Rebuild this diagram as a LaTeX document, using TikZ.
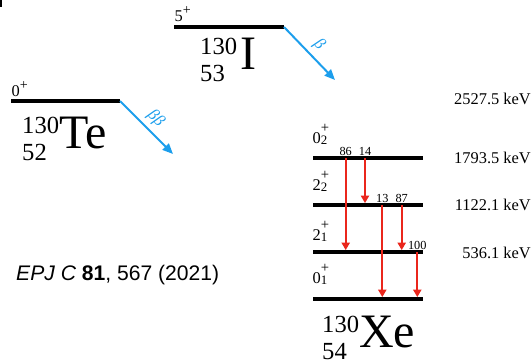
\documentclass[tikz,border=0pt]{standalone}
\usepackage{fontspec}
\setmainfont{Liberation Serif}
\setsansfont{Liberation Sans}
\usetikzlibrary{arrows.meta}

\definecolor{betablue}{RGB}{28,158,236}
\definecolor{gammared}{RGB}{234,38,28}

% nuclide symbol: mass number, charge number, element
\newcommand{\nucl}[3]{%
  {\fontsize{21}{21}\selectfont\rlap{\raisebox{-11pt}{#2}}\raisebox{12.8pt}{#1}}%
  {\fontsize{41}{41}\selectfont #3}}
% spin-parity labels
\newcommand{\jp}[1]{#1\raisebox{5.8pt}{\fontsize{12}{12}\selectfont +}}
\newcommand{\jps}[2]{#1\rlap{\raisebox{9.2pt}{\fontsize{12.5}{12.5}\selectfont +}}\raisebox{-1.2pt}{\fontsize{11}{11}\selectfont #2}}

\begin{document}
\begin{tikzpicture}[x=0.03cm, y=-0.03cm,
    level/.style={line width=3.4pt},
    decay/.style={line width=1.7pt, betablue, -{Triangle[length=9pt, width=7.5pt]}},
    gamma/.style={line width=1.6pt, gammared, -{Triangle[length=6.5pt, width=7pt]}, shorten >=1.6pt},
    jlab/.style={anchor=base west, inner sep=0pt, font=\fontsize{14}{14}\selectfont},
    nuclab/.style={anchor=base west, inner sep=0pt},
    betalab/.style={sloped, above, pos=0.5, inner sep=4pt, text=betablue, font=\fontsize{14}{14}\selectfont\itshape},
    enlab/.style={anchor=east, inner sep=0pt, font=\fontsize{14}{14}\selectfont},
    brlab/.style={anchor=base, inner sep=0pt, yshift=2.3pt, font=\fontsize{10.5}{10.5}\selectfont}]
        \useasboundingbox (0,0) rectangle (532,364);
        \fill (0,0) rectangle (2,7);

        % ==== 130Te ====
        \coordinate (te-l) at (11,101);
        \coordinate (te-r) at (120,101);
        \coordinate (te-tip) at (173,154);
        \draw[level] (te-l) -- (te-r);
        \node[jlab] (te-jp) at (11.5,96.5) {\jp{0}};
        \node[nuclab] (te) at (22,148) {\nucl{130}{52}{Te}};
        \draw[decay] (te-r) -- node[betalab] (te-beta) {ββ} (te-tip);

        % ==== 130I ====
        \coordinate (i-l) at (174,27);
        \coordinate (i-r) at (284,27);
        \coordinate (i-tip) at (335,80);
        \draw[level] (i-l) -- (i-r);
        \node[jlab] (i-jp) at (174.5,21.7) {\jp{5}};
        \node[nuclab] (i) at (200,69) {\nucl{130}{53}{\kern3pt I}};
        \draw[decay] (i-r) -- node[betalab] (i-beta) {β} (i-tip);

        % ==== 130Xe LEVELS ====
        \foreach \lv/\ypos in {x02/158, x22/205, x21/252, x01/299}
            \draw[level] (313,\ypos) coordinate (\lv) -- ++(110,0);
        \node[jlab] (x02-jp) at (312.5,143) {\jps{0}{2}};
        \node[jlab] (x22-jp) at (312.5,190) {\jps{2}{2}};
        \node[jlab] (x21-jp) at (312.5,240) {\jps{2}{1}};
        \node[jlab] (x01-jp) at (312.5,283.5) {\jps{0}{1}};
        \node[nuclab] (xe) at (322,347) {\nucl{130}{54}{Xe}};

        % ==== GAMMA TRANSITIONS ====
        \foreach \xpos/\from/\to/\br in {345.7/x02/x21/86, 365/x02/x22/14, 382.3/x22/x01/13, 401.7/x22/x21/87, 417.3/x21/x01/100}{
            \draw[gamma] (\xpos,0 |- \from) -- (\xpos,0 |- \to);
            \node[brlab] (br\br) at (\xpos,0 |- \from) {\br};
        }

        % ==== ENERGIES ====
        \foreach \ypos/\en [count=\i] in {99/2527.5, 158/1793.5, 205/1122.1, 252.5/536.1}
            \node[enlab] (en\i) at (531,\ypos) {\en~keV};

        % ==== Reference ====
        \node[anchor=base west, inner sep=0pt, font=\sffamily\fontsize{18}{18}\selectfont] (ref) at (16,280) {\textit{EPJ C} \textbf{81}, 567 (2021)};
\end{tikzpicture}
\end{document}
